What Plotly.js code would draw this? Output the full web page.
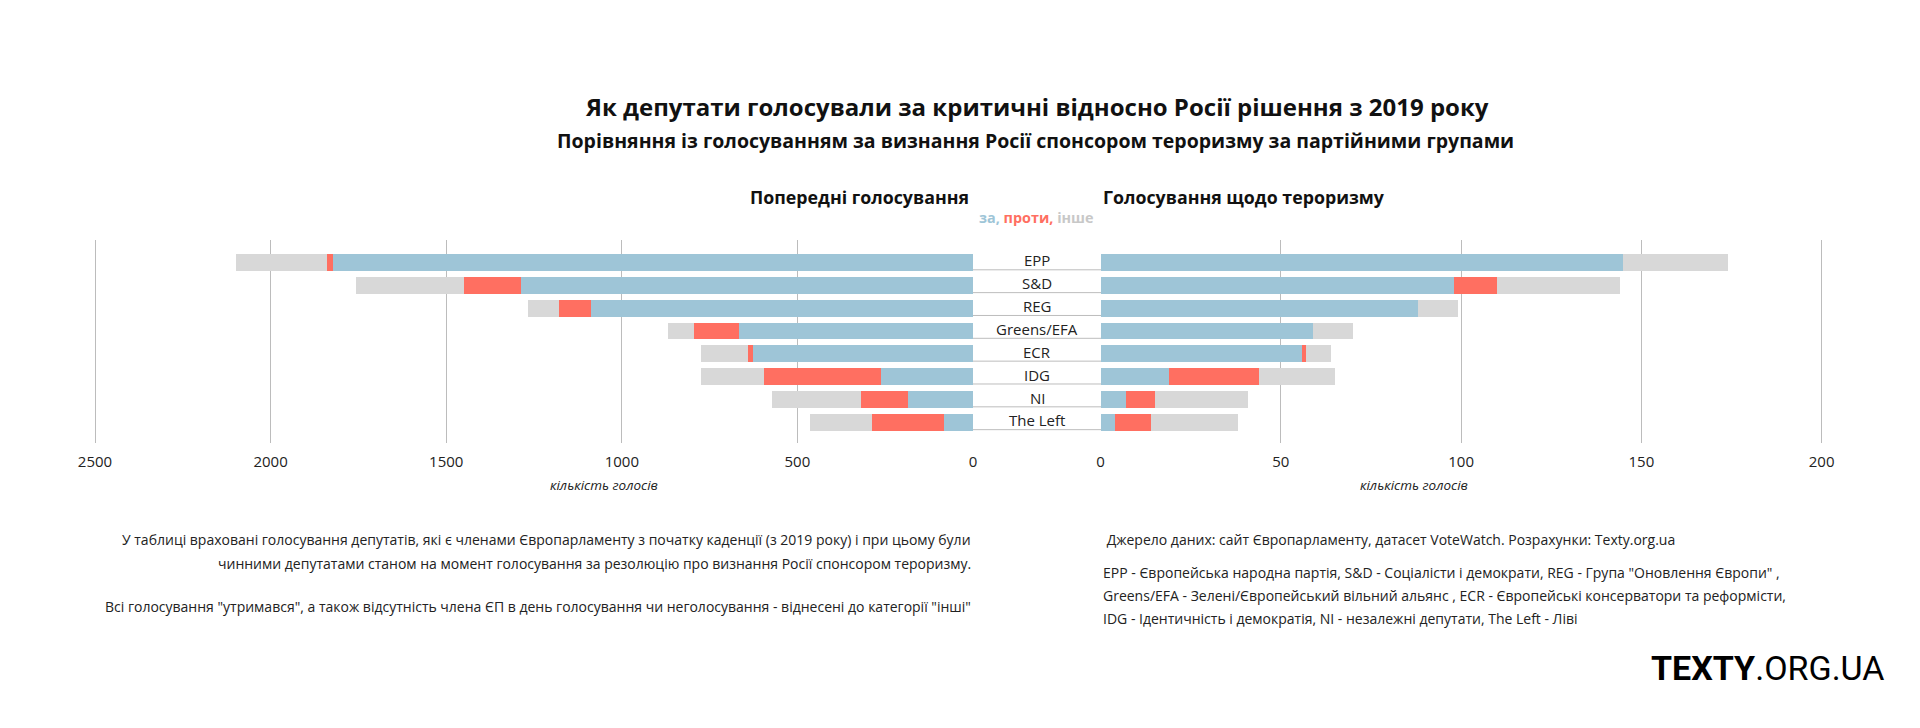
<!DOCTYPE html>
<html><head><meta charset="utf-8">
<script src="https://cdn.plot.ly/plotly-3.0.1.min.js"></script>
<style>html,body{margin:0;padding:0;background:#fff}#chart{width:1920px;height:728px}</style>
</head><body><div id="chart"></div>
<script>
// ---- data ----
const groups = ['EPP','S&D','REG','Greens/EFA','ECR','IDG','NI','The Left'];
const prevFor = [1822,1287,1089,667,626,262,185,84];
const prevAgainst = [18,161,89,126,14,334,133,203];
const prevOther = [260,308,89,75,134,178,253,178];
const terrFor = [145,98,88,59,56,19,7,4];
const terrAgainst = [0,12,0,0,1,25,8,10];
const terrOther = [29,34,11,11,7,21,26,24];
const leftTicks = [2500,2000,1500,1000,500,0];
const rightTicks = [0,50,100,150,200];
const seriesNames = ['за','проти','інше'];

// ---- styling ----
const W = 1920, H = 728;
const FONT = 'Open Sans, Noto Sans, sans-serif';
const COLORS = ['#9ec5d7','#ff6f61','#d8d8d8'];
const px = x => x / W;
const py = y => 1 - y / H;

const traces = [];
[[prevFor,prevAgainst,prevOther,'x'],[terrFor,terrAgainst,terrOther,'x2']].forEach(([a,b,c,xa]) => {
  [a,b,c].forEach((vals,i) => {
    traces.push({type:'bar', orientation:'h', x: vals, y: groups, xaxis: xa, yaxis:'y',
      name: seriesNames[i], marker:{color: COLORS[i], line:{width:0}}, hoverinfo:'x+y+name', showlegend:false});
  });
});

const axisCommon = {
  showgrid:true, gridcolor:'#bcbcbc', gridwidth:1,
  zeroline:true, zerolinecolor:'#ffffff', zerolinewidth:2,
  showline:false, ticks:'', tickmode:'array',
  tickfont:{family:FONT, size:15, color:'#222'}, ticklabelstandoff:8,
  fixedrange:true
};

const annotations = [];
function ann(text, x, y, opts) {
  annotations.push(Object.assign({text, x: px(x), y: py(y), xref:'paper', yref:'paper',
    showarrow:false, xanchor:'center', yanchor:'middle',
    font:{family:FONT, size:14, color:'#222'}}, opts || {}));
}
ann('<b>Як депутати голосували за критичні відносно Росії рішення з 2019 року</b>', 1037, 106, {font:{family:FONT, size:24, color:'#111'}});
ann('<b>Порівняння із голосуванням за визнання Росії спонсором тероризму за партійними групами</b>', 1035, 140, {font:{family:FONT, size:19.5, color:'#111', weight:600}});
ann('<b>Попередні голосування</b>', 971, 197, {xanchor:'right', font:{family:FONT, size:17.8, color:'#111'}});
ann('<b>Голосування щодо тероризму</b>', 1101, 197, {xanchor:'left', font:{family:FONT, size:17.8, color:'#111'}});
ann('<b><span style="color:'+COLORS[0]+'">'+seriesNames[0]+',</span> <span style="color:'+COLORS[1]+'">'+seriesNames[1]+',</span> <span style="color:#c8c8c8">'+seriesNames[2]+'</span></b>', 1036, 217, {font:{family:FONT, size:14.4}});
ann('<i>кількість голосів</i>', 604, 485, {font:{family:FONT, size:13.5, color:'#222'}});
ann('<i>кількість голосів</i>', 1414, 485, {font:{family:FONT, size:13.5, color:'#222'}});
ann('У таблиці враховані голосування депутатів, які є членами Європарламенту з початку каденції (з 2019 року) і при цьому були', 973, 539, {xanchor:'right', font:{family:FONT, size:14, color:'#222'}});
ann('чинними депутатами станом на момент голосування за резолюцію про визнання Росії спонсором тероризму.', 973, 563, {xanchor:'right', font:{family:FONT, size:14, color:'#222'}});
ann('Всі голосування "утримався", а також відсутність члена ЄП в день голосування чи неголосування - віднесені до категорії "інші"', 973, 606, {xanchor:'right', font:{family:FONT, size:14, color:'#222'}});
ann(' Джерело даних: сайт Європарламенту, датасет VoteWatch. Розрахунки: Texty.org.ua', 1101, 539, {xanchor:'left', font:{family:FONT, size:14, color:'#222'}});
ann('EPP - Європейська народна партія, S&D - Соціалісти і демократи, REG - Група "Оновлення Європи" ,', 1101, 572, {xanchor:'left', font:{family:FONT, size:14, color:'#222'}});
ann('Greens/EFA - Зелені/Європейський вільний альянс , ECR - Європейські консерватори та реформісти,', 1101, 595, {xanchor:'left', font:{family:FONT, size:14, color:'#222'}});
ann('IDG - Ідентичність і демократія, NI - незалежні депутати, The Left - Ліві', 1101, 618, {xanchor:'left', font:{family:FONT, size:14, color:'#222'}});
ann('<b>TEXTY</b>.ORG.UA', 1886, 668, {xanchor:'right', font:{family:'Roboto, sans-serif', size:34, color:'#000'}});

// category labels in the centre column + row separators
const shapes = [];
groups.forEach((g, i) => {
  annotations.push({text: g, x: px(1037), xref:'paper', y: g, yref:'y', yshift:2, showarrow:false,
    xanchor:'center', yanchor:'middle', font:{family:FONT, size:15, color:'#222'}});
  shapes.push({type:'line', xref:'paper', x0: px(973), x1: px(1101), yref:'y', y0: i + 0.32, y1: i + 0.32,
    line:{color:'#bdbdbd', width:1}});
});

const layout = {
  width: W, height: H, margin:{l:0,r:0,t:0,b:0},
  paper_bgcolor:'#fff', plot_bgcolor:'rgba(0,0,0,0)',
  barmode:'stack', bargap:0.26, showlegend:false,
  font:{family:FONT, color:'#222'},
  xaxis: Object.assign({}, axisCommon, {domain:[px(59.9), px(973)], range:[2600, 0], tickvals:leftTicks, anchor:'y'}),
  xaxis2: Object.assign({}, axisCommon, {domain:[px(1100.6), px(1857.7)], range:[0, 210], tickvals:rightTicks, anchor:'y'}),
  yaxis: {domain:[py(443), py(240)], type:'category', range:[7.904, -0.985], showticklabels:false,
    showgrid:false, zeroline:false, showline:false, ticks:'', fixedrange:true},
  annotations, shapes
};

Plotly.newPlot('chart', traces, layout, {displayModeBar:false, staticPlot:true});
</script>
</body></html>
